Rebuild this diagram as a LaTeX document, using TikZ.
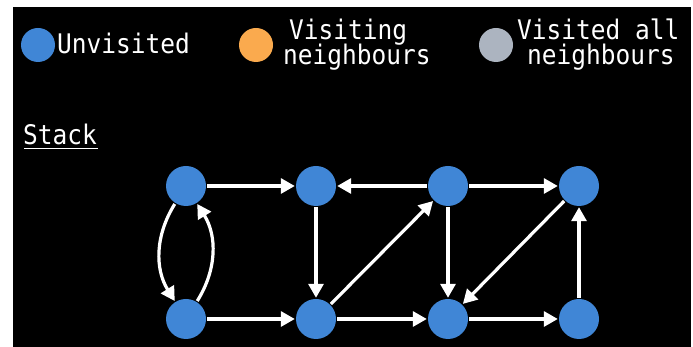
\documentclass[tikz,border=0pt]{standalone}
\usepackage{fontspec}
\usepackage{graphicx}
\setmonofont{DejaVu Sans Mono}
\usetikzlibrary{arrows.meta}
\definecolor{nodeblue}{RGB}{64,134,214}
\definecolor{visorange}{RGB}{250,170,78}
\definecolor{visgray}{RGB}{172,180,192}
\newcommand\lgtext[1]{\scalebox{1}[1.1]{\ttfamily\fontsize{24.5}{29}\selectfont #1}}
\tikzset{
  vert/.style={circle,fill=nodeblue,minimum size=40pt,inner sep=0pt},
  legdot/.style={circle,minimum size=34pt,inner sep=0pt},
  lab/.style={text=white,inner sep=0pt,anchor=base west},
  edge/.style={draw=white,line width=3.2pt,-{Triangle[length=14pt,width=15pt]},shorten >=1pt,shorten <=1pt}
}
\begin{document}
\begin{tikzpicture}[x=1pt,y=1pt]
\useasboundingbox (0,0) rectangle (693,347);
\fill[white] (0,0) rectangle (693,347);
\fill[black] (13,0) rectangle (691,340);
% legend
\node[legdot,fill=nodeblue] (l1) at (38,302) {};
\node[lab] (t1) at (57,293) {\lgtext{Unvisited}};
\node[legdot,fill=visorange] (l2) at (256,302) {};
\node[lab] (t2a) at (289,307) {\lgtext{Visiting}};
\node[lab] (t2b) at (283,282) {\lgtext{neighbours}};
\node[legdot,fill=visgray] (l3) at (496,302) {};
\node[lab] (t3a) at (517,307) {\lgtext{Visited all}};
\node[lab] (t3b) at (527,282) {\lgtext{neighbours}};
% stack label
\node[lab] (st) at (23,202) {\lgtext{Stack}};
\draw[white,line width=1.8pt] ([xshift=1pt,yshift=-3pt]st.south west) coordinate (u1) -- ([xshift=1pt,yshift=-3pt]st.south east) coordinate (u2);
% graph
\node[vert] (A) at (186,161) {};
\node[vert] (B) at (316,161) {};
\node[vert] (C) at (448,161) {};
\node[vert] (D) at (579,161) {};
\node[vert] (E) at (186,28) {};
\node[vert] (F) at (316,28) {};
\node[vert] (G) at (448,28) {};
\node[vert] (H) at (579,28) {};
\draw[edge] (A) -- (B);
\draw[edge] (C) -- (B);
\draw[edge] (C) -- (D);
\draw[edge] (A) to[bend right=32] (E);
\draw[edge] (E) to[bend right=32] (A);
\draw[edge] (E) -- (F);
\draw[edge] (B) -- (F);
\draw[edge] (F) -- (C);
\draw[edge] (F) -- (G);
\draw[edge] (C) -- (G);
\draw[edge] (D) -- (G);
\draw[edge] (G) -- (H);
\draw[edge] (H) -- (D);
\end{tikzpicture}
\end{document}
